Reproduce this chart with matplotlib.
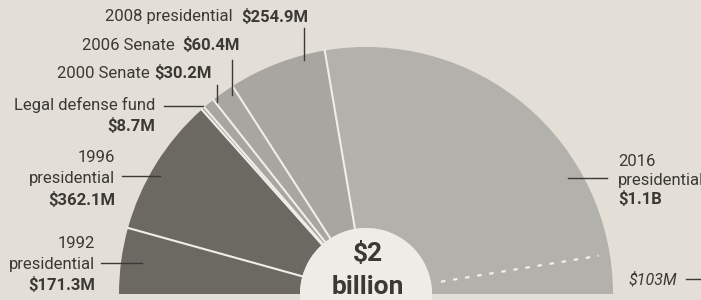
import numpy as np
import matplotlib
matplotlib.use("Agg")
import matplotlib.pyplot as plt
from matplotlib.patches import Circle

plt.rcParams['font.family'] = ['Roboto', 'DejaVu Sans']

# Clinton fundraising, in millions of dollars (left to right around the arc)
segments = ["1992 presidential", "1996 presidential", "Legal defense fund",
            "2000 Senate", "2006 Senate", "2008 presidential", "2016 presidential"]
amounts = [171.3, 362.1, 8.7, 30.2, 60.4, 254.9, 1100.0]
amount_labels = ["$171.3M", "$362.1M", "$8.7M", "$30.2M", "$60.4M", "$254.9M", "$1.1B"]
subset_2016 = 103.0
subset_label = "$103M"
center_line1 = "$2"
center_line2 = "billion"

paper = '#e3dfd7'
dark = '#6c6862'
mid = '#a8a6a0'
light = '#b3b1ab'
seg_colors = [dark, dark, mid, mid, mid, mid, light]
ink = '#3b3936'
sep = '#f0eee8'

fig = plt.figure(figsize=(7.01, 3.0), dpi=100)
fig.patch.set_facecolor(paper)
ax = fig.add_axes([0, 0, 1, 1])
ax.set_facecolor(paper)

cx, cy = 366, 294
r_out, r_in = 247, 66
total = sum(amounts)

wedges, _ = ax.pie(amounts + [total], colors=seg_colors + ['none'],
                   startangle=180, counterclock=True, center=(cx, cy),
                   radius=r_out,
                   wedgeprops=dict(width=r_out - r_in, linewidth=0))

# white separators between the pieces
cum = np.cumsum(amounts)[:-1]
for c in cum:
    a = np.deg2rad(180 + c / total * 180)
    ax.plot([cx + r_in * np.cos(a), cx + r_out * np.cos(a)],
            [cy + r_in * np.sin(a), cy + r_out * np.sin(a)],
            color=sep, lw=1.5, zorder=2)

ax.add_patch(Circle((cx, cy), r_in, facecolor='#eeece6', edgecolor='none', zorder=3))

ax.set_xlim(0, 701)
ax.set_ylim(300, 0)
ax.set_aspect('equal')
ax.axis('off')

# dashed marker for the $103M piece of 2016
ang = np.deg2rad(360 - subset_2016 / total * 180)
ax.plot([cx + 76 * np.cos(ang), cx + 236 * np.cos(ang)],
        [cy + 76 * np.sin(ang), cy + 236 * np.sin(ang)],
        color='#f2f0ea', lw=1.6, ls=(0, (2, 3.5)), zorder=4)

fs = 12
# top labels: name + bold amount on one line
top = [(segments[5], amount_labels[5], 233, 241, 17, 304, 28, 60),
       (segments[4], amount_labels[4], 175, 182, 45, 232, 60, 95),
       (segments[3], amount_labels[3], 150, 154, 73, 217, 85, 102)]
for name, amt, xn, xa, y, lx, ly0, ly1 in top:
    ax.text(xn, y, name, ha='right', va='center', fontsize=fs, color=ink)
    ax.text(xa, y, amt, ha='left', va='center', fontsize=fs, color=ink,
            fontweight='bold')
    ax.plot([lx, lx], [ly0, ly1], color=ink, lw=1)

ax.text(155, 105, segments[2], ha='right', va='center', fontsize=fs, color=ink)
ax.text(155, 126, amount_labels[2], ha='right', va='center', fontsize=fs,
        color=ink, fontweight='bold')
ax.plot([164, 203], [106, 106], color=ink, lw=1)

# stacked labels on the left
for idx, xr, ys, ly, lx0, lx1 in [(1, 115, (157, 178, 200), 176, 122, 160),
                                  (0, 95, (243, 264, 285), 263, 101, 142)]:
    year, word = segments[idx].split(' ')
    ax.text(xr, ys[0], year, ha='right', va='center', fontsize=fs, color=ink)
    ax.text(xr, ys[1], word, ha='right', va='center', fontsize=fs, color=ink)
    ax.text(xr, ys[2], amount_labels[idx], ha='right', va='center', fontsize=fs,
            color=ink, fontweight='bold')
    ax.plot([lx0, lx1], [ly, ly], color=ink, lw=1)

# 2016 label on the right (runs off the edge, as in the print)
year, word = segments[6].split(' ')
ax.text(618, 161, year, ha='left', va='center', fontsize=fs, color=ink)
ax.text(618, 180, word, ha='left', va='center', fontsize=fs, color=ink)
ax.text(618, 199, amount_labels[6], ha='left', va='center', fontsize=fs,
        color=ink, fontweight='bold')
ax.plot([568, 607], [178, 178], color=ink, lw=1)

ax.text(628, 280, subset_label, ha='left', va='center', fontsize=11.5,
        color=ink, style='italic')
ax.plot([686, 701], [279, 279], color=ink, lw=1)

ax.text(368, 254, center_line1, ha='center', va='center', fontsize=19,
        color=ink, fontweight='bold', zorder=5)
ax.text(368, 287, center_line2, ha='center', va='center', fontsize=19,
        color=ink, fontweight='bold', zorder=5)

fig.savefig("out.png", dpi=100, facecolor=paper)
